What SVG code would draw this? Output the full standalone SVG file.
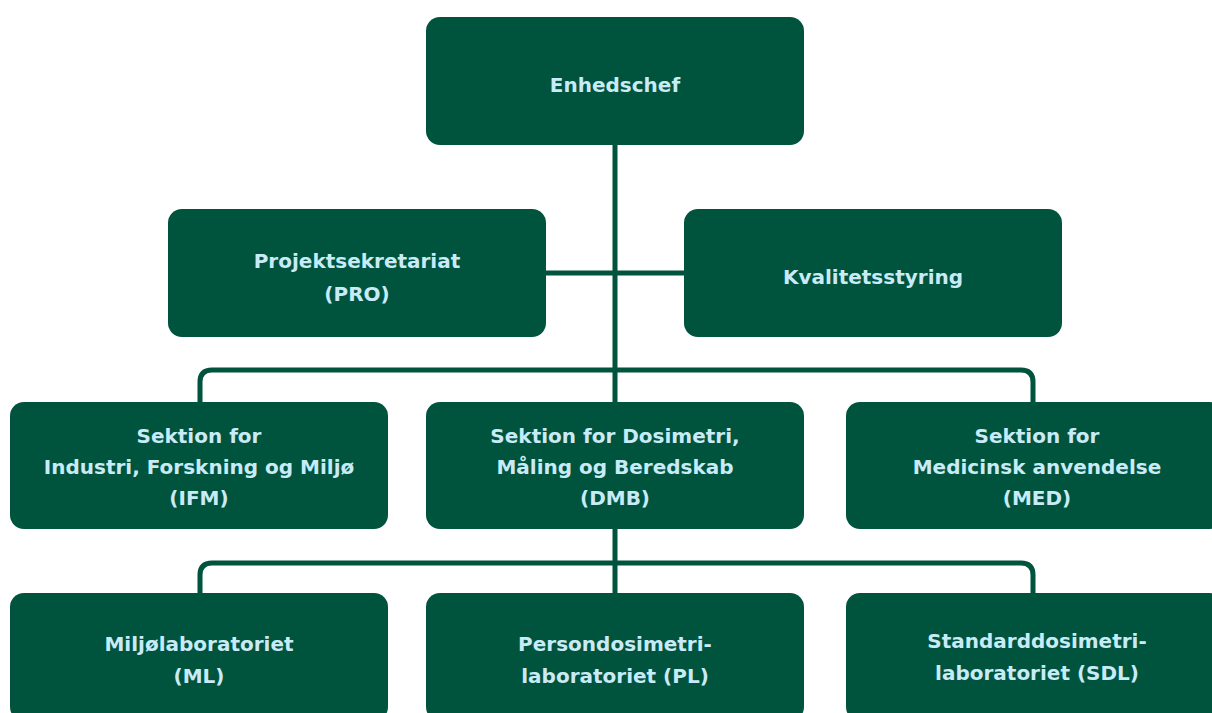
<svg xmlns="http://www.w3.org/2000/svg" width="1212" height="713" viewBox="0 0 1212 713">
<style>
.n{fill:#00533D}
.t{font-family:"DejaVu Sans","Liberation Sans",sans-serif;font-weight:700;font-size:20px;fill:#C8EBF7;text-anchor:middle;dominant-baseline:central}
.c{fill:none;stroke:#00533D;stroke-width:5}
</style>
<rect width="1212" height="713" fill="#FFFFFF"/>
<g id="connectors">
<path class="c" d="M615 145V402"/>
<path class="c" d="M546 273H684"/>
<path class="c" d="M200 402V382Q200 370 212 370H1021Q1033 370 1033 382V402"/>
<path class="c" d="M615 529V593"/>
<path class="c" d="M200 593V575Q200 563 212 563H1021Q1033 563 1033 575V593"/>
</g>
<g id="enhedschef"><rect class="n" x="426" y="17" width="378" height="128" rx="14"/><text class="t" x="615" y="85">Enhedschef</text></g>
<g id="pro"><rect class="n" x="168" y="209" width="378" height="128" rx="14"/><text class="t" x="357" y="261">Projektsekretariat</text><text class="t" x="357" y="294">(PRO)</text></g>
<g id="kval"><rect class="n" x="684" y="209" width="378" height="128" rx="14"/><text class="t" x="873" y="277">Kvalitetsstyring</text></g>
<g id="ifm"><rect class="n" x="10" y="402" width="378" height="127" rx="14"/><text class="t" x="199" y="436">Sektion for</text><text class="t" x="199" y="467">Industri, Forskning og Miljø</text><text class="t" x="199" y="498">(IFM)</text></g>
<g id="dmb"><rect class="n" x="426" y="402" width="378" height="127" rx="14"/><text class="t" x="615" y="436">Sektion for Dosimetri,</text><text class="t" x="615" y="467">Måling og Beredskab</text><text class="t" x="615" y="498">(DMB)</text></g>
<g id="med"><rect class="n" x="846" y="402" width="378" height="127" rx="14"/><text class="t" x="1037" y="436">Sektion for</text><text class="t" x="1037" y="467">Medicinsk anvendelse</text><text class="t" x="1037" y="498">(MED)</text></g>
<g id="ml"><rect class="n" x="10" y="593" width="378" height="128" rx="14"/><text class="t" x="199" y="644">Miljølaboratoriet</text><text class="t" x="199" y="676">(ML)</text></g>
<g id="pl"><rect class="n" x="426" y="593" width="378" height="128" rx="14"/><text class="t" x="615" y="644">Persondosimetri-</text><text class="t" x="615" y="676">laboratoriet (PL)</text></g>
<g id="sdl"><rect class="n" x="846" y="593" width="378" height="128" rx="14"/><text class="t" x="1037" y="641">Standarddosimetri-</text><text class="t" x="1037" y="673">laboratoriet (SDL)</text></g>
</svg>
